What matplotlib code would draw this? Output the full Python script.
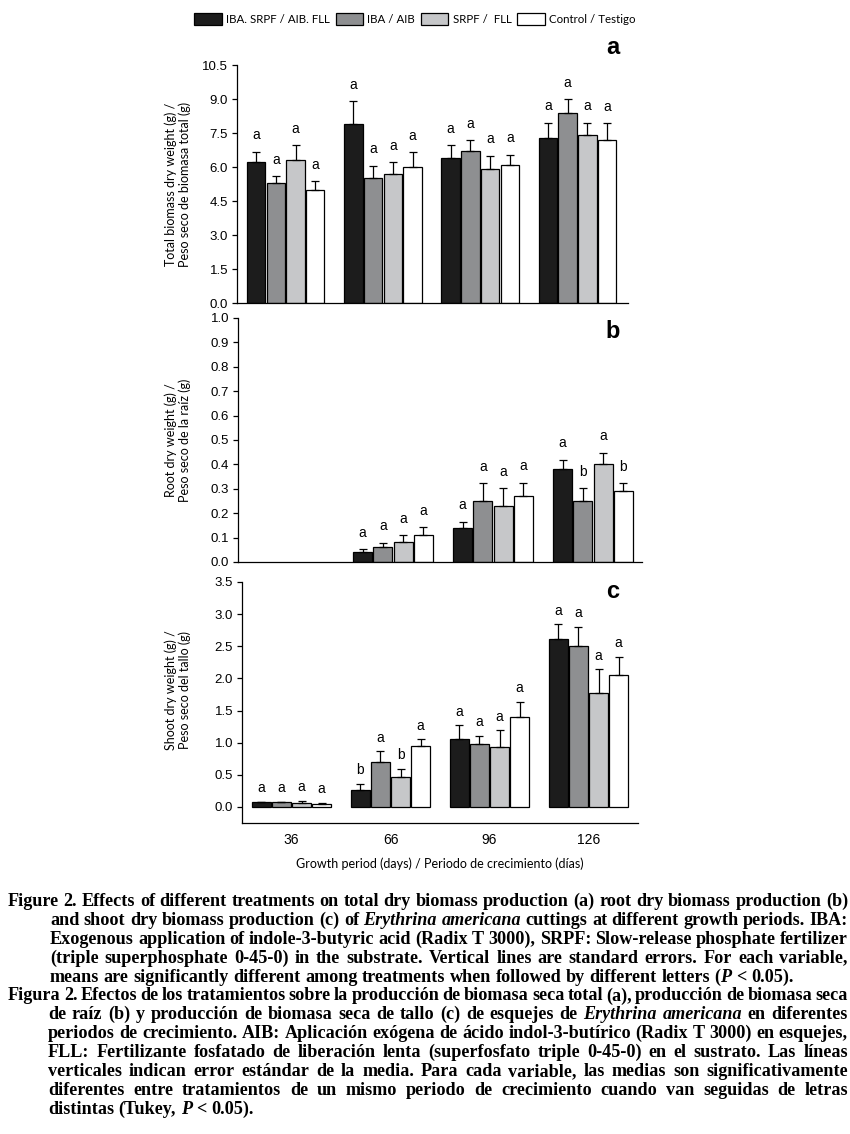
import re
import numpy as np
import matplotlib
matplotlib.use("Agg")
import matplotlib.pyplot as plt
from matplotlib.font_manager import FontProperties

# Daten
days = ["36", "66", "96", "126"]
treatments = ["IBA. SRPF / AIB. FLL", "IBA / AIB", "SRPF /  FLL", "Control / Testigo"]
colors = ["#1c1c1c", "#8e8f91", "#c6c7c9", "#ffffff"]

# (a) Gesamtbiomasse, je Behandlung ueber die 4 Perioden
total_mean = [[6.2, 7.9, 6.4, 7.3],
              [5.3, 5.5, 6.7, 8.4],
              [6.3, 5.7, 5.9, 7.4],
              [5.0, 6.0, 6.1, 7.2]]
total_se = [[0.47, 1.00, 0.56, 0.65],
            [0.29, 0.55, 0.49, 0.59],
            [0.65, 0.52, 0.59, 0.56],
            [0.38, 0.65, 0.43, 0.74]]
total_letters = [["a", "a", "a", "a"],
                 ["a", "a", "a", "a"],
                 ["a", "a", "a", "a"],
                 ["a", "a", "a", "a"]]

# (b) Wurzel
root_mean = [[np.nan, 0.04, 0.14, 0.38],
             [np.nan, 0.06, 0.25, 0.25],
             [np.nan, 0.08, 0.23, 0.40],
             [np.nan, 0.11, 0.27, 0.29]]
root_se = [[np.nan, 0.013, 0.025, 0.040],
           [np.nan, 0.019, 0.073, 0.052],
           [np.nan, 0.029, 0.073, 0.048],
           [np.nan, 0.032, 0.054, 0.033]]
root_letters = [["", "a", "a", "a"],
                ["", "a", "a", "b"],
                ["", "a", "a", "a"],
                ["", "a", "a", "b"]]

# (c) Spross
shoot_mean = [[0.07, 0.26, 1.05, 2.61],
              [0.07, 0.70, 0.98, 2.50],
              [0.06, 0.47, 0.93, 1.78],
              [0.05, 0.95, 1.40, 2.06]]
shoot_se = [[0.005, 0.095, 0.22, 0.23],
            [0.010, 0.165, 0.125, 0.305],
            [0.030, 0.120, 0.26, 0.36],
            [0.010, 0.100, 0.23, 0.275]]
shoot_letters = [["a", "b", "a", "a"],
                 ["a", "a", "a", "a"],
                 ["a", "b", "a", "a"],
                 ["a", "a", "a", "a"]]

caption_en = [
    "Figure 2. Effects of different treatments on total dry biomass production (a) root dry biomass production (b)",
    "and shoot dry biomass production (c) of *Erythrina* *americana* cuttings at different growth periods. IBA:",
    "Exogenous application of indole-3-butyric acid (Radix T 3000), SRPF: Slow-release phosphate fertilizer",
    "(triple superphosphate 0-45-0) in the substrate. Vertical lines are standard errors. For each variable,",
    "means are significantly different among treatments when followed by different letters (*P* < 0.05).",
]
caption_es = [
    "Figura 2. Efectos de los tratamientos sobre la producción de biomasa seca total (a), producción de biomasa seca",
    "de raíz (b) y producción de biomasa seca de tallo (c) de esquejes de *Erythrina* *americana* en diferentes",
    "periodos de crecimiento. AIB: Aplicación exógena de ácido indol-3-butírico (Radix T 3000) en esquejes,",
    "FLL: Fertilizante fosfatado de liberación lenta (superfosfato triple 0-45-0) en el sustrato. Las líneas",
    "verticales indican error estándar de la media. Para cada variable, las medias son significativamente",
    "diferentes entre tratamientos de un mismo periodo de crecimiento cuando van seguidas de letras",
    "distintas (Tukey, *P* < 0.05).",
]

W, H = 850, 1134
sans = "Liberation Sans"
label_font = "Lato"

fig = plt.figure(figsize=(W / 100, H / 100), dpi=100)


def px_axes(left, top, right, bottom):
    return fig.add_axes([left / W, 1 - bottom / H, (right - left) / W, (bottom - top) / H])


ax_a = px_axes(237, 65, 628, 303)
ax_b = px_axes(238, 318, 642, 562)
ax_c = px_axes(242, 582, 638, 823)

x = np.arange(len(days))
step = 0.203
width = 0.19


def draw_panel(ax, means, ses, letters, letter_off):
    handles = []
    for i in range(len(treatments)):
        m = np.array(means[i], dtype=float)
        s = np.array(ses[i], dtype=float)
        xi = x + (i - 1.5) * step
        ok = ~np.isnan(m)
        b = ax.bar(xi[ok], m[ok], width, color=colors[i], edgecolor="black",
                   linewidth=0.9, label=treatments[i], zorder=2)
        handles.append(b)
        ax.errorbar(xi[ok], m[ok], yerr=[np.zeros(ok.sum()), s[ok]], fmt="none",
                    ecolor="black", elinewidth=0.9, capsize=3.2, capthick=0.9, zorder=3)
        for j in np.where(ok)[0]:
            ax.annotate(letters[i][j], (xi[j], m[j] + s[j]), xytext=(0, letter_off),
                        textcoords="offset points", ha="center", va="baseline",
                        fontsize=10, family=sans)
    for sp in ["top", "right"]:
        ax.spines[sp].set_visible(False)
    for sp in ["left", "bottom"]:
        ax.spines[sp].set_linewidth(0.9)
    ax.tick_params(axis="y", labelsize=9.5, length=3.5, width=0.9, pad=3)
    return handles


handles = draw_panel(ax_a, total_mean, total_se, total_letters, 9)
draw_panel(ax_b, root_mean, root_se, root_letters, 9)
draw_panel(ax_c, shoot_mean, shoot_se, shoot_letters, 7)

ax_a.set_ylim(0, 10.5)
ax_a.set_yticks(np.arange(0, 10.51, 1.5))
ax_a.set_yticklabels([f"{v:.1f}" for v in np.arange(0, 10.51, 1.5)], family=sans)
ax_a.set_xlim(-0.5, 3.52)

ax_b.set_ylim(0, 1.0)
ax_b.set_yticks(np.arange(0, 1.01, 0.1))
ax_b.set_yticklabels([f"{v:.1f}" for v in np.arange(0, 1.01, 0.1)], family=sans)
ax_b.set_xlim(-0.55, 3.49)

ax_c.set_ylim(-0.25, 3.5)
ax_c.set_yticks(np.arange(0, 3.51, 0.5))
ax_c.set_yticklabels([f"{v:.1f}" for v in np.arange(0, 3.51, 0.5)], family=sans)
ax_c.set_xlim(-0.5, 3.5)

for ax in (ax_a, ax_b):
    ax.set_xticks([])
ax_c.set_xticks(x)
ax_c.set_xticklabels(days, family=sans, fontsize=10)
ax_c.tick_params(axis="x", length=0, pad=7)
ax_c.set_xlabel("Growth period (days) / Periodo de crecimiento (días)",
                family=label_font, fontsize=9, labelpad=8)

ylabels = [(ax_a, "Total biomass dry weight (g) /\nPeso seco de biomasa total (g)", 184),
           (ax_b, "Root dry weight (g) /\nPeso seco de la raíz (g)", 440),
           (ax_c, "Shoot dry weight (g) /\nPeso seco del tallo (g)", 690)]
for ax, txt, yc in ylabels:
    fig.text(178 / W, 1 - yc / H, txt, rotation=90, ha="center", va="center",
             multialignment="center", family=label_font, fontsize=9, linespacing=1.1)

for ax, lab, xc, yc in [(ax_a, "a", 613, 47), (ax_b, "b", 613, 332), (ax_c, "c", 613, 592)]:
    fig.text(xc / W, 1 - yc / H, lab, ha="center", va="center",
             fontsize=17, fontweight="bold", family=sans)

fig.legend(handles=handles, labels=treatments, loc="center", bbox_to_anchor=(0.488, 1 - 19 / H),
           ncol=4, frameon=False, prop={"family": label_font, "size": 8.3},
           handlelength=2.4, handleheight=1.2, handletextpad=0.35, columnspacing=0.5)

# Bildunterschrift, Blocksatz wortweise gesetzt
fig.canvas.draw()
rend = fig.canvas.get_renderer()
cap_family = "Liberation Serif"


def fprop(italic, size):
    return FontProperties(family=cap_family, weight="bold",
                          style="italic" if italic else "normal", size=size)


def split_word(word):
    parts = re.split(r"(\*[^*]*\*)", word)
    return [(p.strip("*"), p.startswith("*")) for p in parts if p]


def word_w(word, size):
    return sum(rend.get_text_width_height_descent(t, fprop(it, size), ismath=False)[0]
               for t, it in split_word(word))


right_edge = 848
x0 = 8
y_first = 906   # Grundlinie der ersten Zeile
line_gap = 18.9

paragraphs = [(caption_en, 50), (caption_es, 48)]

# Schriftgroesse so waehlen, dass die engste Zeile passt
base = 10
ratios = []
for lines, indent in paragraphs:
    for k, line in enumerate(lines[:-1]):
        words = line.split(" ")
        start = x0 if k == 0 else indent
        nat = sum(word_w(w, base) for w in words) + (len(words) - 1) * word_w(" ", base) * 0.6
        ratios.append((right_edge - start) / nat)
fs = base * min(ratios) * 0.99
space = word_w(" ", fs)

row = 0
for lines, indent in paragraphs:
    for k, line in enumerate(lines):
        words = line.split(" ")
        start = x0 if k == 0 else indent
        widths = [word_w(w, fs) for w in words]
        if k < len(lines) - 1:
            gap = (right_edge - start - sum(widths)) / (len(words) - 1)
        else:
            gap = space
        yy = y_first + row * line_gap
        xx = start
        for w, ww in zip(words, widths):
            xs = xx
            for t, it in split_word(w):
                fig.text(xs / W, 1 - yy / H, t, ha="left", va="baseline",
                         fontproperties=fprop(it, fs))
                xs += rend.get_text_width_height_descent(t, fprop(it, fs), ismath=False)[0]
            xx += ww + gap
        row += 1

fig.savefig("out.png", dpi=100)
